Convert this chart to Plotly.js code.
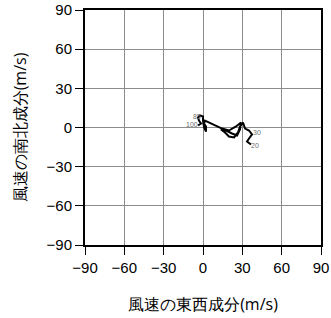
<!DOCTYPE html>
<html><head><meta charset="utf-8">
<script src="https://cdn.plot.ly/plotly-3.0.1.min.js"></script>
<style>html,body{margin:0;padding:0;background:#fff}#c{width:331px;height:318px}</style>
</head><body><div id="c"></div>
<script>
// Hodograph: east-west (u) and north-south (v) wind components (m/s)
const uWind = [36.6,33.6,35.1,37.4,35.1,32.1,30.5,28.2,26.7,23.7,19.8,16.8,13.7,17.6,22.1,26.0,28.2,29.0,25.2,19.8,14.5,9.9,6.9,3.8,1.5,0.8,2.3,2.3,0.8,0.0,0.0,-2.3,-3.8,-3.1,-1.5,-3.8];
const vWind = [-13.0,-10.7,-8.4,-5.3,-2.3,-0.8,3.8,0.8,-3.8,-7.6,-6.9,-3.8,-1.5,-2.3,-4.6,-6.1,-1.5,3.8,0.8,-2.3,-0.8,1.5,3.1,4.6,5.3,3.1,0.8,-3.1,0.0,5.3,8.4,9.2,7.6,5.3,3.1,1.5];
const levelLabels = ["20","30","85","100"];
const labelU = [39.5,41.5,-4.5,-8.5];
const labelV = [-13.8,-3.8,8.6,2.2];
const tickStart = 0;
const tickStep = 30;

const fontFam = 'Liberation Sans, Arial, Helvetica, sans-serif';
function axis(titleText, standoff){
  return {
    range:[-90,90], tickmode:'linear', tick0:tickStart, dtick:tickStep,
    showgrid:true, gridcolor:'rgb(140,140,140)', gridwidth:1,
    zeroline:false, showline:true, mirror:true, linecolor:'#000', linewidth:2,
    ticks:'outside', ticklen:8, tickwidth:1, tickcolor:'#000',
    tickfont:{family:fontFam, size:15, color:'#000'},
    title:{text:titleText, font:{size:16, color:'#000'}, standoff:standoff}
  };
}
const annotations = levelLabels.map((t, i) => ({
  x:labelU[i], y:labelV[i], xref:'x', yref:'y', text:t, showarrow:false,
  font:{family:fontFam, size:7, color:'rgb(110,110,110)'}
}));
const data = [
  {x:uWind, y:vWind, mode:'lines', line:{color:'#000', width:2}}
];
const layout = {
  width:331, height:318, showlegend:false,
  margin:{l:85, r:10, t:10, b:73},
  xaxis:axis('風速の東西成分(m/s)', 24),
  yaxis:axis('風速の南北成分(m/s)', 16),
  annotations:annotations
};
Plotly.newPlot('c', data, layout, {staticPlot:true});
</script></body></html>
